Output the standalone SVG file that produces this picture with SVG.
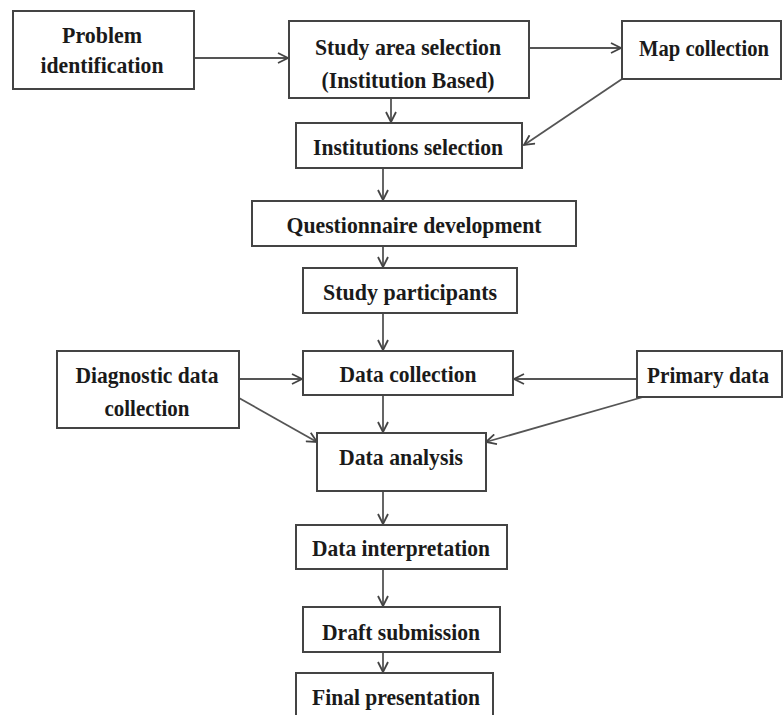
<svg xmlns="http://www.w3.org/2000/svg" width="783" height="715" viewBox="0 0 783 715">
<style>
.box{fill:#fff;stroke:#444;stroke-width:2}
.t{font-family:"Liberation Serif","Times New Roman",serif;font-weight:bold;font-size:23px;fill:#1a1a1a;text-anchor:middle}
.c{stroke:#555;stroke-width:1.8;fill:none;marker-end:url(#ah)}
</style>
<defs>
<marker id="ah" viewBox="0 0 12 12" refX="11" refY="6" markerWidth="12" markerHeight="12" markerUnits="userSpaceOnUse" orient="auto">
<path d="M1,1 L11,6 L1,11" fill="none" stroke="#444" stroke-width="1.8"/>
</marker>
</defs>
<rect width="783" height="715" fill="#fff"/>
<g id="connectors">
<line class="c" x1="194" y1="58" x2="288" y2="58"/>
<line class="c" x1="529" y1="48" x2="621" y2="48"/>
<line class="c" x1="391" y1="98" x2="391" y2="122"/>
<line class="c" x1="622" y1="79" x2="524" y2="145"/>
<line class="c" x1="383" y1="168" x2="383" y2="200"/>
<line class="c" x1="383" y1="246" x2="383" y2="267"/>
<line class="c" x1="383" y1="313" x2="383" y2="350"/>
<line class="c" x1="239" y1="379" x2="302" y2="379"/>
<line class="c" x1="637" y1="379" x2="514" y2="379"/>
<line class="c" x1="239" y1="398" x2="317" y2="442"/>
<line class="c" x1="643" y1="397" x2="486" y2="442"/>
<line class="c" x1="383" y1="395" x2="383" y2="432"/>
<line class="c" x1="383" y1="491" x2="383" y2="524"/>
<line class="c" x1="383" y1="569" x2="383" y2="606"/>
<line class="c" x1="383" y1="652" x2="383" y2="672"/>
</g>
<g id="problem"><rect class="box" x="13" y="11" width="181" height="78"/><text class="t" x="102" y="43" textLength="80" lengthAdjust="spacingAndGlyphs">Problem</text><text class="t" x="102" y="73" textLength="123" lengthAdjust="spacingAndGlyphs">identification</text></g>
<g id="study-area"><rect class="box" x="289" y="21" width="240" height="77"/><text class="t" x="408" y="55" textLength="186" lengthAdjust="spacingAndGlyphs">Study area selection</text><text class="t" x="408" y="88" textLength="173" lengthAdjust="spacingAndGlyphs">(Institution Based)</text></g>
<g id="map"><rect class="box" x="622" y="21" width="159" height="58"/><text class="t" x="704" y="56" textLength="130" lengthAdjust="spacingAndGlyphs">Map collection</text></g>
<g id="institutions"><rect class="box" x="296" y="123" width="226" height="45"/><text class="t" x="408" y="155" textLength="190" lengthAdjust="spacingAndGlyphs">Institutions selection</text></g>
<g id="questionnaire"><rect class="box" x="252" y="201" width="324" height="45"/><text class="t" x="414" y="233" textLength="255" lengthAdjust="spacingAndGlyphs">Questionnaire development</text></g>
<g id="participants"><rect class="box" x="303" y="268" width="214" height="45"/><text class="t" x="410" y="300" textLength="174" lengthAdjust="spacingAndGlyphs">Study participants</text></g>
<g id="data-collection"><rect class="box" x="303" y="351" width="210" height="44"/><text class="t" x="408" y="382" textLength="137" lengthAdjust="spacingAndGlyphs">Data collection</text></g>
<g id="diagnostic"><rect class="box" x="57" y="351" width="182" height="77"/><text class="t" x="147" y="383" textLength="143" lengthAdjust="spacingAndGlyphs">Diagnostic data</text><text class="t" x="147" y="416" textLength="85" lengthAdjust="spacingAndGlyphs">collection</text></g>
<g id="primary"><rect class="box" x="637" y="351" width="145" height="46"/><text class="t" x="708" y="383" textLength="122" lengthAdjust="spacingAndGlyphs">Primary data</text></g>
<g id="analysis"><rect class="box" x="317" y="433" width="169" height="58"/><text class="t" x="401" y="465" textLength="124" lengthAdjust="spacingAndGlyphs">Data analysis</text></g>
<g id="interpretation"><rect class="box" x="296" y="525" width="211" height="44"/><text class="t" x="401" y="556" textLength="178" lengthAdjust="spacingAndGlyphs">Data interpretation</text></g>
<g id="draft"><rect class="box" x="303" y="607" width="197" height="45"/><text class="t" x="401" y="640" textLength="158" lengthAdjust="spacingAndGlyphs">Draft submission</text></g>
<g id="final"><rect class="box" x="296" y="673" width="197" height="50"/><text class="t" x="396" y="705" textLength="168" lengthAdjust="spacingAndGlyphs">Final presentation</text></g>
</svg>
